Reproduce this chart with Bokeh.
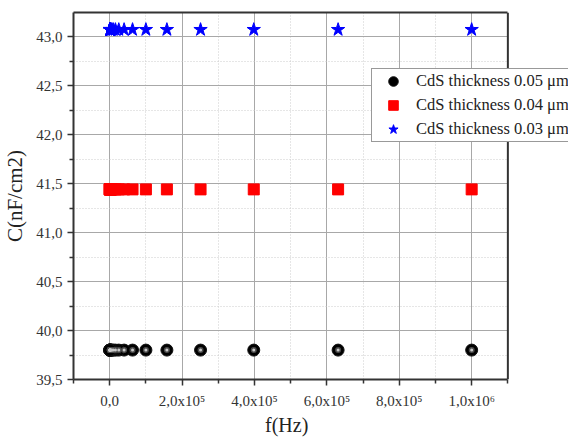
from bokeh.plotting import figure
from bokeh.models import (Range1d, FixedTicker, Legend, LegendItem, CustomJSTickFormatter,
                          LinearAxis, Span, BoxAnnotation, Title)
from bokeh.embed import file_html
from bokeh.resources import INLINE

# ---------------- data ----------------
freq = [1.0e6, 6.31e5, 3.98e5, 2.51e5, 1.58e5, 1.0e5, 6.31e4, 3.98e4, 2.51e4,
        1.58e4, 1.0e4, 6310, 3980, 2510, 1580, 1000, 631, 398, 251, 158, 100]
c_005 = [39.80, 39.80, 39.80, 39.80, 39.80, 39.80, 39.80, 39.80, 39.80, 39.80, 39.80,
         39.80, 39.80, 39.80, 39.80, 39.80, 39.80, 39.80, 39.80, 39.80, 39.80]
c_004 = [41.44, 41.44, 41.44, 41.44, 41.44, 41.44, 41.44, 41.44, 41.44, 41.44, 41.44,
         41.44, 41.44, 41.44, 41.44, 41.44, 41.44, 41.44, 41.44, 41.44, 41.44]
c_003 = [43.07, 43.07, 43.07, 43.07, 43.07, 43.07, 43.07, 43.07, 43.07, 43.07, 43.07,
         43.07, 43.07, 43.07, 43.07, 43.07, 43.07, 43.07, 43.07, 43.07, 43.07]
series_labels = ["CdS thickness 0.05 \u03bcm", "CdS thickness 0.04 \u03bcm", "CdS thickness 0.03 \u03bcm"]

x_axis_min, x_axis_max = -1e5, 1.1e6
y_axis_min, y_axis_max = 39.5, 43.245
x_ticks = [0, 2e5, 4e5, 6e5, 8e5, 1e6]
x_tick_labels = ["0,0", "2,0x10\u2075", "4,0x10\u2075", "6,0x10\u2075", "8,0x10\u2075", "1,0x10\u2076"]
x_minor = [-1e5, 1e5, 3e5, 5e5, 7e5, 9e5, 1.1e6]
y_ticks = [39.5, 40.0, 40.5, 41.0, 41.5, 42.0, 42.5, 43.0]
y_tick_labels = ["39,5", "40,0", "40,5", "41,0", "41,5", "42,0", "42,5", "43,0"]
y_minor = [39.75, 40.25, 40.75, 41.25, 41.75, 42.25, 42.75]
x_title = "f(Hz)"
y_title = "C(nF/cm2)"

# ---------------- figure ----------------
FONT = "Liberation Serif"
W, H = 568, 441
LEFT, TOP, BOTTOM = 70, 12, 62
frame_w_axis = 437.0  # pixel width of the drawn axis box
frame_w_full = W - LEFT
# the frame runs to the right edge of the canvas so the legend can overhang the axis box
x_view_max = x_axis_max + (x_axis_max - x_axis_min) * (frame_w_full - frame_w_axis) / frame_w_axis

p = figure(width=W, height=H, output_backend="svg", toolbar_location=None,
           x_range=Range1d(x_axis_min, x_view_max), y_range=Range1d(y_axis_min, y_axis_max),
           min_border_left=LEFT, min_border_right=0, min_border_top=TOP, min_border_bottom=BOTTOM)
p.background_fill_color = "white"
p.border_fill_color = "white"
p.outline_line_color = None

fmt_js = """
for (let i = 0; i < tvals.length; i++) {
  if (Math.abs(tick - tvals[i]) <= 1e-6 * Math.max(1, Math.abs(tvals[i]))) return tlabels[i];
}
return "";
"""
p.xaxis.ticker = FixedTicker(ticks=x_ticks, minor_ticks=x_minor)
p.yaxis.ticker = FixedTicker(ticks=y_ticks, minor_ticks=y_minor)
p.xaxis.formatter = CustomJSTickFormatter(args=dict(tvals=x_ticks, tlabels=x_tick_labels), code=fmt_js)
p.yaxis.formatter = CustomJSTickFormatter(args=dict(tvals=y_ticks, tlabels=y_tick_labels), code=fmt_js)
p.xaxis.bounds = (x_axis_min, x_axis_max)

for ax in (p.xaxis, p.yaxis):
    ax.axis_line_color = "#333333"
    ax.axis_line_width = 2
    ax.major_tick_line_color = "#333333"
    ax.major_tick_line_width = 1.5
    ax.minor_tick_line_color = "#333333"
    ax.minor_tick_line_width = 1.5
    ax.major_tick_out = 6
    ax.major_tick_in = 0
    ax.minor_tick_out = 4
    ax.minor_tick_in = 0
    ax.major_label_text_font = FONT
    ax.major_label_text_font_size = "15px"
    ax.major_label_text_color = "#333333"
p.xaxis.major_label_standoff = 7
p.yaxis.major_label_standoff = 5
p.yaxis.axis_label = y_title
p.yaxis.axis_label_text_font = FONT
p.yaxis.axis_label_text_font_size = "21px"
p.yaxis.axis_label_text_font_style = "normal"
p.yaxis.axis_label_text_color = "#222222"
p.yaxis.axis_label_standoff = 6

# x title centred under the axis box (not under the widened frame)
XT_SIZE = 20
xt_half_width = 27  # approx. half width of "f(Hz)" incl. side bearing, px
xt = Title(text=x_title, align="left", offset=frame_w_axis / 2 - xt_half_width,
           text_font=FONT, text_font_size=f"{XT_SIZE}px", text_font_style="normal",
           text_color="#222222", standoff=0)
p.add_layout(xt, "below")

# top border of the axis box
top_axis = LinearAxis(bounds=(x_axis_min, x_axis_max), ticker=FixedTicker(ticks=[], minor_ticks=[]),
                      axis_line_color="#333333", axis_line_width=2,
                      major_tick_line_color=None, minor_tick_line_color=None,
                      major_label_text_font_size="0px")
p.add_layout(top_axis, "above")

for g in (p.xgrid, p.ygrid):
    g.grid_line_color = "#a8a8a8"
    g.grid_line_width = 1
    g.minor_grid_line_color = "#cccccc"
    g.minor_grid_line_dash = "1 2"
    g.minor_grid_line_width = 1

# ---------------- marks ----------------
r1 = p.scatter(freq, c_005, marker="circle", size=12, fill_color="black", line_color="#111111")
p.scatter(freq, c_005, marker="circle", size=6, fill_color="#4a4a4a", line_color=None)
p.scatter(freq, c_005, marker="circle", size=3, fill_color="#c8c8c8", line_color=None)
r2 = p.scatter(freq, c_004, marker="square", size=11, fill_color="red", line_color="red")
r3 = p.scatter(freq, c_003, marker="star", size=14, fill_color="blue", line_color="blue")

# blank out everything right of the axis box, then draw its right border
p.add_layout(BoxAnnotation(left=x_axis_max, fill_color="white", fill_alpha=1, line_color=None))
p.add_layout(Span(location=x_axis_max, dimension="height", line_color="#333333", line_width=2))

legend = Legend(items=[LegendItem(label=series_labels[0], renderers=[r1]),
                       LegendItem(label=series_labels[1], renderers=[r2]),
                       LegendItem(label=series_labels[2], renderers=[r3])],
                location=(298, 237), orientation="vertical")
legend.label_text_font = FONT
legend.label_text_font_size = "16.5px"
legend.label_text_color = "#222222"
legend.glyph_width = 42
legend.glyph_height = 24
legend.label_height = 24
legend.label_standoff = 2
legend.spacing = 0
legend.padding = 0
legend.margin = 0
legend.border_line_color = "#333333"
legend.border_line_width = 1.5
legend.background_fill_color = "white"
legend.background_fill_alpha = 1
p.add_layout(legend, "center")

open("out.html", "w").write(file_html(p, INLINE))
